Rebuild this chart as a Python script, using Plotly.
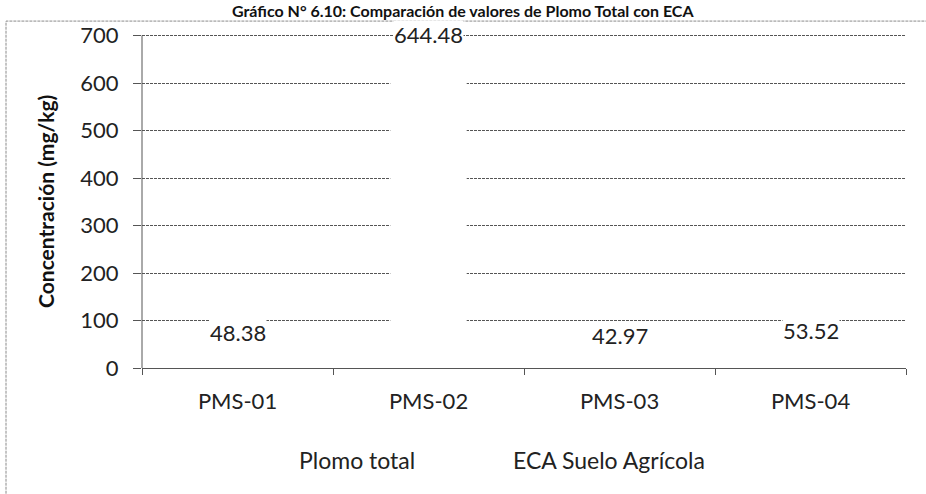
import plotly.graph_objects as go

# Sampling points and measured total lead concentration (mg/kg)
puntos = ["PMS-01", "PMS-02", "PMS-03", "PMS-04"]
plomo_total = [48.38, 644.48, 42.97, 53.52]
# Environmental quality standard for agricultural soil (mg/kg)
eca_suelo_agricola = [70, 70, 70, 70]
y_ticks = [0, 100, 200, 300, 400, 500, 600, 700]

FONT = "Lato"
W, H = 926, 494
L, R, T, B = 142, 20, 26, 120
plot_w = W - L - R
plot_h = H - T - B


def px_to_paper_x(px):
    return (px - L) / plot_w


def px_to_paper_y(py):
    return (H - B - py) / plot_h


fig = go.Figure()

fig.add_trace(go.Bar(
    x=puntos,
    y=plomo_total,
    name="Plomo total",
    width=0.4,
    marker=dict(color="white", line=dict(width=0)),
    hoverinfo="x+y",
    legend="legend",
))

fig.add_trace(go.Scatter(
    x=puntos,
    y=eca_suelo_agricola,
    name="ECA Suelo Agrícola",
    mode="lines",
    line=dict(color="rgba(255,255,255,0)", width=2),
    legend="legend2",
))

# Value labels above each bar (pixel gap between bar top and label)
label_gap = [-2, 13, -2, -2]
for cat, val, gap in zip(puntos, plomo_total, label_gap):
    fig.add_annotation(
        x=cat, y=val, xref="x", yref="y",
        text=f"{val:.2f}",
        showarrow=False,
        yanchor="bottom",
        yshift=gap,
        bgcolor="white",
        borderpad=0,
        font=dict(family=FONT, size=22, color="#222222"),
    )

# Axis title
fig.add_annotation(
    x=px_to_paper_x(46), y=px_to_paper_y(205), xref="paper", yref="paper",
    xanchor="center", yanchor="middle",
    text="<b>Concentración (mg/kg)</b>",
    textangle=-90,
    showarrow=False,
    font=dict(family=FONT, size=21, color="#111111"),
)

# Chart heading
fig.add_annotation(
    x=0.5 * (px_to_paper_x(0) + px_to_paper_x(W)), y=px_to_paper_y(0),
    xref="paper", yref="paper",
    xanchor="center", yanchor="top",
    text="<b>Gráfico N° 6.10: Comparación de valores de Plomo Total con ECA</b>",
    showarrow=False,
    borderpad=0,
    font=dict(family=FONT, size=16, color="#111111"),
)

# Outer chart border
fig.add_shape(
    type="rect", xref="paper", yref="paper",
    x0=px_to_paper_x(6), x1=px_to_paper_x(960),
    y0=px_to_paper_y(520), y1=px_to_paper_y(21),
    line=dict(color="#8a8a8a", width=1, dash="3px,1px"),
    layer="below",
)

legend_style = dict(
    orientation="h",
    yanchor="middle",
    y=px_to_paper_y(468),
    xanchor="left",
    font=dict(family=FONT, size=23, color="#222222"),
    itemwidth=30,
    bgcolor="rgba(0,0,0,0)",
)

fig.update_layout(
    width=W, height=H,
    margin=dict(l=L, r=R, t=T, b=B),
    paper_bgcolor="white",
    plot_bgcolor="white",
    font=dict(family=FONT, size=22, color="#222222"),
    showlegend=True,
    legend=dict(legend_style, x=px_to_paper_x(259)),
    legend2=dict(legend_style, x=px_to_paper_x(473)),
    bargap=0.6,
)

fig.update_xaxes(
    type="category",
    showline=True, linecolor="#555555", linewidth=1,
    ticks="outside", tickson="boundaries", ticklen=6, tickcolor="#555555",
    tickfont=dict(family=FONT, size=22, color="#222222"),
    showgrid=False,
    ticklabelstandoff=14,
)

fig.update_yaxes(
    range=[0, 720],
    tickvals=y_ticks,
    showline=False,
    ticks="outside", ticklen=8, tickcolor="#555555",
    tickfont=dict(family=FONT, size=22, color="#222222"),
    showgrid=True, gridcolor="#555555", gridwidth=1, griddash="3px,1px",
    zeroline=False,
    ticklabelstandoff=10,
)

# Vertical axis line spanning 0 to 700 only
fig.add_shape(
    type="line", xref="paper", yref="y",
    x0=0, x1=0, y0=0, y1=y_ticks[-1],
    line=dict(color="#555555", width=1),
)

fig.write_html("out.html")
